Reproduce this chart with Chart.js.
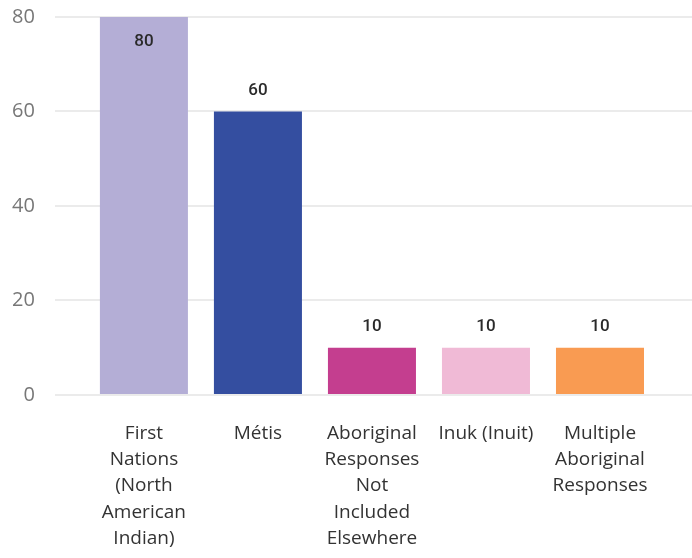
<!DOCTYPE html>
<html>
<head>
<meta charset="utf-8">
<script src="https://cdn.jsdelivr.net/npm/chart.js@4.4.0/dist/chart.umd.min.js"></script>
<style>
    html, body { margin: 0; padding: 0; background: #fff; }
    #wrap { width: 692px; height: 558px; position: relative; }
</style>
</head>
<body>
<div id="wrap"><canvas id="chart"></canvas></div>
<script>
// Categories (pre-wrapped the way the reference shows them)
const categories = [
    ['First', 'Nations', '(North', 'American', 'Indian)'],
    ['Métis'],
    ['Aboriginal', 'Responses', 'Not', 'Included', 'Elsewhere'],
    ['Inuk (Inuit)'],
    ['Multiple', 'Aboriginal', 'Responses'],
];
const values = [80, 60, 10, 10, 10];
const barColors = ['#b4aed6', '#344ea0', '#c43e8f', '#f0bad6', '#f99b52'];
const yTicks = [0, 20, 40, 60, 80];

// Draws value labels above each bar (inside the bar when there is no room above)
const valueLabels = {
    id: 'valueLabels',
    afterDatasetsDraw(chart) {
        const ctx = chart.ctx;
        const meta = chart.getDatasetMeta(0);
        ctx.save();
        ctx.font = '500 17px Roboto';
        ctx.fillStyle = '#2a2a2a';
        ctx.textAlign = 'center';
        ctx.textBaseline = 'middle';
        meta.data.forEach((bar, i) => {
            let y = bar.y - 21;
            if (y - 9 < chart.chartArea.top) {
                y = bar.y + 25;
            }
            ctx.fillText(String(values[i]), bar.x, y);
        });
        ctx.restore();
    }
};

const ctx = document.getElementById('chart').getContext('2d');
const chart = new Chart(ctx, {
    type: 'bar',
    data: {
        datasets: [{
            data: values.map((v, i) => ({ x: i, y: v })),
            backgroundColor: barColors,
            borderWidth: 0,
            categoryPercentage: 0.772,
            barPercentage: 1,
        }],
    },
    options: {
        responsive: true,
        maintainAspectRatio: false,
        animation: false,
        layout: {
            padding: { left: 12, top: 17, right: 0, bottom: 6 },
        },
        plugins: {
            legend: { display: false },
            tooltip: { enabled: false },
        },
        scales: {
            x: {
                type: 'linear',
                offset: false,
                min: -0.781,
                max: 4.807,
                // transparent tick marks keep the gap between bars and labels
                grid: {
                    display: true,
                    drawOnChartArea: false,
                    drawTicks: true,
                    tickLength: 25,
                    color: 'transparent',
                    tickColor: 'transparent',
                },
                border: { display: false },
                afterBuildTicks: (axis) => {
                    axis.ticks = categories.map((c, i) => ({ value: i }));
                },
                ticks: {
                    autoSkip: false,
                    maxRotation: 0,
                    minRotation: 0,
                    padding: 0,
                    color: '#333',
                    font: { family: 'Open Sans', size: 19, lineHeight: 1.39 },
                    callback: (value) => categories[value],
                },
            },
            y: {
                min: 0,
                max: 80,
                afterBuildTicks: (axis) => {
                    axis.ticks = yTicks.map(v => ({ value: v }));
                },
                grid: {
                    color: '#ebebeb',
                    lineWidth: 2,
                    drawTicks: true,
                    tickLength: 20,
                    tickColor: 'transparent',
                },
                border: { display: false },
                ticks: {
                    padding: 0,
                    color: '#777',
                    font: { family: 'Open Sans', size: 20, lineHeight: 0.5 },
                },
            },
        },
    },
    plugins: [valueLabels],
});
</script>
</body>
</html>
